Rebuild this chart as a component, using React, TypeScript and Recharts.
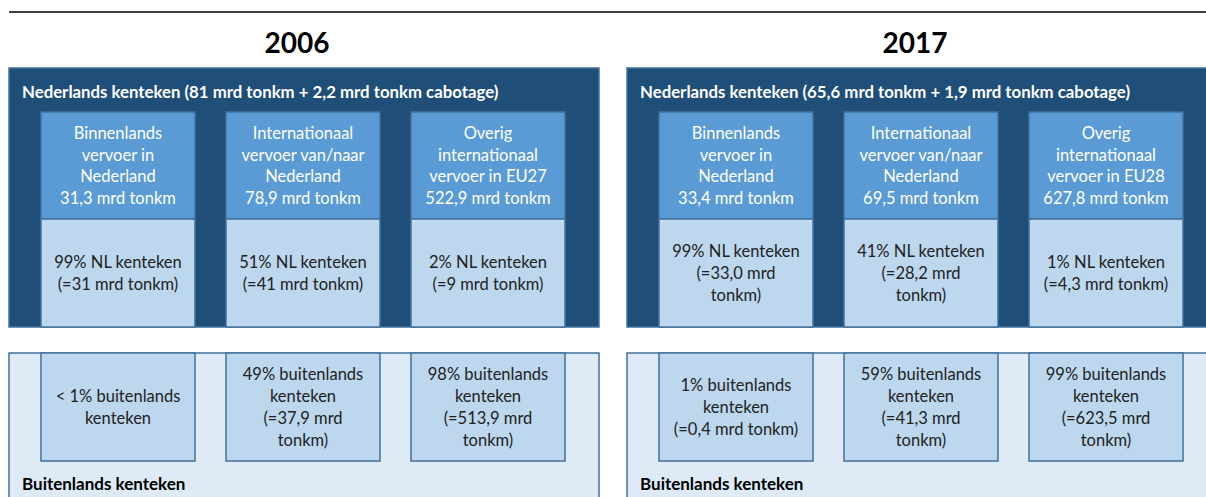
import React from "react";
import { ComposedChart, XAxis, YAxis, ReferenceArea, ReferenceLine } from "recharts";

// two years side by side
const years = ["2006", "2017"];
const nlHeaders = [
  "Nederlands kenteken (81 mrd tonkm + 2,2 mrd tonkm cabotage)",
  "Nederlands kenteken (65,6 mrd tonkm + 1,9 mrd tonkm cabotage)",
];
const segments2006 = [
  ["Binnenlands", "vervoer in", "Nederland", "31,3 mrd tonkm"],
  ["Internationaal", "vervoer van/naar", "Nederland", "78,9 mrd tonkm"],
  ["Overig", "internationaal", "vervoer in EU27", "522,9 mrd tonkm"],
];
const segments2017 = [
  ["Binnenlands", "vervoer in", "Nederland", "33,4 mrd tonkm"],
  ["Internationaal", "vervoer van/naar", "Nederland", "69,5 mrd tonkm"],
  ["Overig", "internationaal", "vervoer in EU28", "627,8 mrd tonkm"],
];
const nlShare2006 = [
  ["99% NL kenteken", "(=31 mrd tonkm)"],
  ["51% NL kenteken", "(=41 mrd tonkm)"],
  ["2% NL kenteken", "(=9 mrd tonkm)"],
];
const nlShare2017 = [
  ["99% NL kenteken", "(=33,0 mrd", "tonkm)"],
  ["41% NL kenteken", "(=28,2 mrd", "tonkm)"],
  ["1% NL kenteken", "(=4,3 mrd tonkm)"],
];
const foreign2006 = [
  ["< 1% buitenlands", "kenteken"],
  ["49% buitenlands", "kenteken", "(=37,9 mrd", "tonkm)"],
  ["98% buitenlands", "kenteken", "(=513,9 mrd", "tonkm)"],
];
const foreign2017 = [
  ["1% buitenlands", "kenteken", "(=0,4 mrd tonkm)"],
  ["59% buitenlands", "kenteken", "(=41,3 mrd", "tonkm)"],
  ["99% buitenlands", "kenteken", "(=623,5 mrd", "tonkm)"],
];
const foreignLabel = "Buitenlands kenteken";

const segments = [segments2006, segments2017];
const nlShares = [nlShare2006, nlShare2017];
const foreigns = [foreign2006, foreign2017];

// layout
const W = 1206;
const H = 497;
const panelX = [9, 627];
const panelW = 590;
const colOffset = [32, 217, 402];
const colW = 154;
const FONT = "Lato, 'Open Sans', sans-serif";

const DARK = "#1F4E79";
const MID = "#5B9BD5";
const LIGHT = "#BDD7EE";
const PALE = "#DEEBF7";
const EDGE = "#41719C";

function BoxText(props: any) {
  const { viewBox, lines, fill, fontSize, fontWeight, lineHeight, align, padX, topY } = props;
  if (!viewBox) return null;
  const { x, y, width, height } = viewBox;
  const lh = lineHeight || fontSize * 1.3;
  const cx = align === "start" ? x + padX : x + width / 2;
  const y0 = align === "start" ? y + topY : y + height / 2 - ((lines.length - 1) * lh) / 2;
  return (
    <text
      x={cx}
      y={y0}
      fill={fill}
      fontSize={fontSize}
      fontWeight={fontWeight || 400}
      fontFamily={FONT}
      textAnchor={align === "start" ? "start" : "middle"}
      dominantBaseline="central"
    >
      {lines.map((l: string, i: number) => (
        <tspan key={i} x={cx} y={y0 + i * lh}>
          {l}
        </tspan>
      ))}
    </text>
  );
}

export default function App() {
  const areas: React.ReactNode[] = [];
  years.forEach((year, p) => {
    const px = panelX[p];
    areas.push(
      <ReferenceArea
        key={`title-${p}`}
        x1={px}
        x2={px + panelW - 14}
        y1={27}
        y2={57}
        fill="none"
        stroke="none"
        ifOverflow="visible"
        label={<BoxText lines={[year]} fill="#000" fontSize={28} fontWeight={700} />}
      />
    );
    areas.push(
      <ReferenceArea
        key={`dark-${p}`}
        x1={px}
        x2={px + panelW}
        y1={68}
        y2={327}
        fill={DARK}
        fillOpacity={1}
        stroke={EDGE}
        strokeWidth={1.5}
        ifOverflow="visible"
        label={
          <BoxText
            lines={[nlHeaders[p]]}
            fill="#fff"
            fontSize={16.8}
            fontWeight={700}
            align="start"
            padX={13}
            topY={23}
          />
        }
      />
    );
    areas.push(
      <ReferenceArea
        key={`pale-${p}`}
        x1={px}
        x2={px + panelW}
        y1={353}
        y2={520}
        fill={PALE}
        fillOpacity={1}
        stroke={EDGE}
        strokeWidth={1.5}
        ifOverflow="visible"
        label={
          <BoxText
            lines={[foreignLabel]}
            fill="#000"
            fontSize={17}
            fontWeight={700}
            align="start"
            padX={13}
            topY={130}
          />
        }
      />
    );
    colOffset.forEach((co, c) => {
      const x1 = px + co;
      const x2 = x1 + colW;
      areas.push(
        <ReferenceArea
          key={`seg-${p}-${c}`}
          x1={x1}
          x2={x2}
          y1={112}
          y2={219}
          fill={MID}
          fillOpacity={1}
          stroke={EDGE}
          strokeWidth={1.5}
          ifOverflow="visible"
          label={<BoxText lines={segments[p][c]} fill="#fff" fontSize={16.5} lineHeight={21.7} />}
        />
      );
      areas.push(
        <ReferenceArea
          key={`nl-${p}-${c}`}
          x1={x1}
          x2={x2}
          y1={219}
          y2={327}
          fill={LIGHT}
          fillOpacity={1}
          stroke={EDGE}
          strokeWidth={1.5}
          ifOverflow="visible"
          label={<BoxText lines={nlShares[p][c]} fill="#222" fontSize={16.5} lineHeight={21.7} />}
        />
      );
      areas.push(
        <ReferenceArea
          key={`fo-${p}-${c}`}
          x1={x1}
          x2={x2}
          y1={353}
          y2={461}
          fill={LIGHT}
          fillOpacity={1}
          stroke={EDGE}
          strokeWidth={1.5}
          ifOverflow="visible"
          label={<BoxText lines={foreigns[p][c]} fill="#222" fontSize={16.5} lineHeight={21.7} />}
        />
      );
    });
  });

  return (
    <div style={{ position: "absolute", left: 0, top: 0, width: W, height: H, background: "#fff" }}>
      <ComposedChart width={W} height={H} data={[]} margin={{ top: 0, right: 0, bottom: 0, left: 0 }}>
        <XAxis type="number" dataKey="x" domain={[0, W]} hide allowDataOverflow />
        <YAxis type="number" dataKey="y" domain={[0, H]} reversed hide allowDataOverflow />
        <ReferenceLine
          segment={[
            { x: 9, y: 12 },
            { x: W, y: 12 },
          ]}
          stroke="#000"
          strokeWidth={1.5}
          ifOverflow="visible"
        />
        {areas}
      </ComposedChart>
    </div>
  );
}
